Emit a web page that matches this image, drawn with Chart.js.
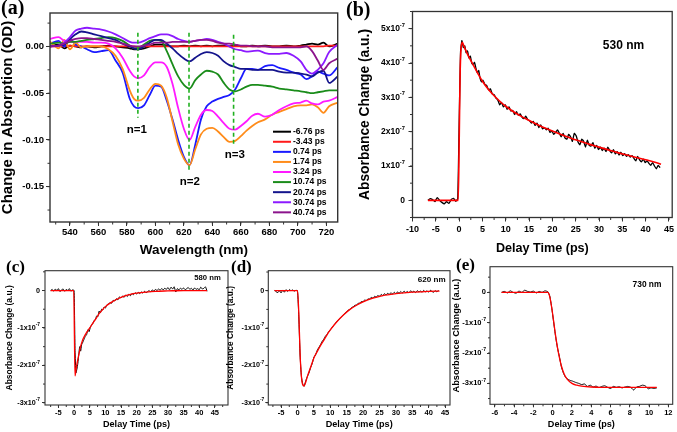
<!DOCTYPE html>
<html><head><meta charset="utf-8">
<script src="https://cdn.jsdelivr.net/npm/chart.js@4.4.1/dist/chart.umd.min.js"></script>
<style>
html,body{margin:0;padding:0;background:#fff;}
#wrap{position:relative;width:677px;height:432px;overflow:hidden;background:#fff;}
#wrap canvas{position:absolute;}
.pl{position:absolute;font-family:"Liberation Serif","Times New Roman",serif;font-weight:bold;line-height:1;color:#000;white-space:nowrap;}
.ann{position:absolute;font-family:"Liberation Sans",Arial,sans-serif;font-weight:bold;line-height:1;color:#000;transform:translate(-50%,-50%);white-space:nowrap;}
</style></head><body>
<div id="wrap">
<canvas id="ca" width="345" height="262" style="left:0;top:0"></canvas>
<canvas id="cb" width="332" height="262" style="left:345px;top:0"></canvas>
<canvas id="cc" width="232" height="177" style="left:0;top:255px"></canvas>
<canvas id="cd" width="228" height="177" style="left:225px;top:255px"></canvas>
<canvas id="ce" width="229" height="177" style="left:448px;top:255px"></canvas>
<div class="pl" style="left:1px;top:-3px;font-size:20px">(a)</div>
<div class="pl" style="left:346px;top:-1px;font-size:20px">(b)</div>
<div class="pl" style="left:6px;top:257.5px;font-size:17px">(c)</div>
<div class="pl" style="left:231px;top:257.5px;font-size:17px">(d)</div>
<div class="pl" style="left:456px;top:255.5px;font-size:17px">(e)</div>
<div class="ann" style="left:623.5px;top:44.5px;font-size:12px">530 nm</div>
<div class="ann" style="left:207.5px;top:277.5px;font-size:7.7px">580 nm</div>
<div class="ann" style="left:431.7px;top:279.5px;font-size:8.1px">620 nm</div>
<div class="ann" style="left:647px;top:284px;font-size:8.4px">730 nm</div>
</div>
<script>
// ---------- Panel (a): transient absorption spectra ----------
const aWavelength = [526,532,536,540,544,548,552,557,562,567,572,577,582,585,588,592,596,600,604,608,612,616,620,624,628,632,636,640,644,648,652,656,660,664,668,672,677,682,687,692,697,702,706,710,714,718,722,728];
const aDelayLabels = ['-6.76 ps','-3.43 ps','0.74 ps','1.74 ps','3.24 ps','10.74 ps','20.74 ps','30.74 ps','40.74 ps'];
const aM676 = [0.000,0.002,-0.002,0.001,0.000,-0.001,0.000,-0.001,0.000,0.001, 0.000,-0.001,-0.002,-0.003,-0.003,-0.002,0.000,0.002,0.002,0.001, 0.000,0.000,0.001,0.000,0.001,0.000,0.001,0.000,0.001,0.001, 0.000,0.001,0.000,0.000,0.001,0.000,0.001,0.000,0.000,0.001, 0.000,0.001,0.002,0.003,0.002,0.004,0.000,0.003];
const aM343 = [0.000,0.000,0.000,0.001,0.000,0.000,0.000,0.000,0.000,0.000, 0.000,0.000,0.000,0.000,-0.001,0.000,0.000,0.000,0.000,0.000, 0.000,0.000,0.000,0.000,0.000,0.000,0.000,0.000,0.000,0.000, 0.000,0.000,0.000,0.000,0.000,0.000,0.000,0.000,0.000,0.000, 0.000,0.000,0.000,0.000,0.000,0.000,0.001,0.001];
const aP074 = [0.003,0.006,0.000,0.008,0.002,0.000,-0.003,-0.006,-0.005,-0.004, -0.015,-0.028,-0.056,-0.064,-0.066,-0.063,-0.052,-0.042,-0.043,-0.058, -0.078,-0.100,-0.118,-0.127,-0.105,-0.078,-0.064,-0.059,-0.056,-0.054, -0.052,-0.046,-0.034,-0.024,-0.024,-0.025,-0.021,-0.020,-0.023,-0.025, -0.028,-0.030,-0.035,-0.032,-0.027,-0.029,-0.031,-0.022];
const aP174 = [0.005,-0.002,0.007,-0.003,0.004,-0.001,0.000,0.000,0.000,-0.003, -0.010,-0.024,-0.047,-0.056,-0.058,-0.055,-0.046,-0.040,-0.042,-0.055, -0.080,-0.105,-0.120,-0.127,-0.110,-0.094,-0.088,-0.087,-0.091,-0.097, -0.102,-0.101,-0.096,-0.090,-0.085,-0.081,-0.078,-0.073,-0.070,-0.067, -0.064,-0.063,-0.063,-0.062,-0.065,-0.071,-0.064,-0.060];
const aP324 = [0.008,0.010,0.006,0.005,0.005,0.005,0.005,0.004,0.004,0.003, -0.002,-0.012,-0.026,-0.032,-0.034,-0.031,-0.022,-0.017,-0.017,-0.022, -0.040,-0.066,-0.088,-0.100,-0.086,-0.073,-0.068,-0.069,-0.075,-0.082, -0.088,-0.089,-0.085,-0.080,-0.074,-0.072,-0.075,-0.073,-0.068,-0.064, -0.061,-0.060,-0.058,-0.061,-0.062,-0.059,-0.058,-0.054];
const aP1074 = [0.003,0.004,0.003,0.005,0.005,0.006,0.007,0.008,0.009,0.010, 0.009,0.006,0.001,-0.002,-0.002,0.002,0.006,0.007,0.006,-0.005, -0.019,-0.032,-0.041,-0.045,-0.036,-0.030,-0.026,-0.027,-0.030,-0.039, -0.046,-0.048,-0.046,-0.043,-0.041,-0.041,-0.042,-0.043,-0.045,-0.046, -0.047,-0.048,-0.049,-0.050,-0.049,-0.048,-0.047,-0.047];
const aP2074 = [0.000,0.001,0.002,0.008,0.013,0.016,0.015,0.013,0.011,0.009, 0.007,0.003,0.000,-0.002,-0.003,0.000,0.004,0.007,0.007,0.003, -0.002,-0.008,-0.013,-0.016,-0.012,-0.008,-0.006,-0.007,-0.010,-0.016, -0.020,-0.022,-0.024,-0.024,-0.025,-0.025,-0.025,-0.025,-0.027,-0.028, -0.028,-0.029,-0.030,-0.032,-0.028,-0.026,-0.039,-0.032];
const aP3074 = [0.000,0.001,0.004,0.010,0.017,0.019,0.020,0.019,0.018,0.016, 0.013,0.009,0.005,0.004,0.004,0.006,0.009,0.011,0.013,0.013, 0.011,0.008,0.006,0.005,0.006,0.007,0.008,0.007,0.005,0.003, 0.000,-0.003,-0.004,-0.0055,-0.005,-0.0045,-0.007,-0.008,-0.008,-0.007, -0.010,-0.016,-0.025,-0.029,-0.025,-0.018,-0.006,0.002];
const aP4074 = [0.000,0.001,0.003,0.006,0.008,0.009,0.009,0.008,0.007,0.006, 0.005,0.003,0.001,0.000,0.000,0.001,0.002,0.004,0.004,0.004, 0.005,0.005,0.005,0.005,0.006,0.007,0.007,0.006,0.004,0.003, 0.003,0.002,0.001,0.001,0.000,0.000,0.000,-0.001,-0.001,-0.001, -0.001,-0.001,0.000,-0.005,-0.015,-0.025,-0.018,-0.013];
const aSeries = [aM676,aM343,aP074,aP174,aP324,aP1074,aP2074,aP3074,aP4074];
const aColors = ['#000000','#ff1a1a','#1a1aff','#ff8c1a','#ff1aff','#1a8c1a','#14148c','#8c1aff','#8c148c'];
const aDashX = [587.7, 623.6, 654.9];
const aDashTop = [0.0147, 0.0147, 0.0125];
const aDashBottom = [-0.0763, -0.132, -0.105];
const aPeakLabels = ['n=1','n=2','n=3'];
const aPeakX = [587, 624.2, 655.8];
const aPeakY = [-0.089, -0.145, -0.116];
const aXTicks = [540,560,580,600,620,640,660,680,700,720];
const aXTickLabels = ['540','560','580','600','620','640','660','680','700','720'];
const aYTicks = [0,-0.05,-0.10,-0.15];
const aYTickLabels = ['0.00','-0.05','-0.10','-0.15'];

// ---------- Panel (b): 530 nm kinetics ----------
const bTime = [-6.7,-6.2,-5.7,-5.2,-4.7,-4.2,-3.7,-3.2,-2.7,-2.2, -1.7,-1.2,-0.7,-0.3,0.0,0.3,0.6,0.9,1.2,1.5, 1.8,2.1,2.4,2.7,3.0,3.3,3.6,3.9,4.2,4.5, 4.8,5.1,5.5,5.9,6.3,6.7,7.1,7.5,7.9,8.3, 8.7,9.1,9.5,9.9,10.3,10.7,11.1,11.5,11.9,12.3, 12.7,13.1,13.5,13.9,14.3,14.7,15.1,15.5,15.9,16.3, 16.7,17.1,17.5,17.9,18.3,18.7,19.1,19.5,19.9,20.3, 20.7,21.1,21.5,21.9,22.3,22.7,23.1,23.5,23.9,24.3, 24.7,25.1,25.5,25.9,26.3,26.7,27.1,27.5,27.9,28.3, 28.7,29.1,29.5,29.9,30.3,30.7,31.1,31.5,31.9,32.3, 32.7,33.1,33.5,33.9,34.3,34.7,35.1,35.5,35.9,36.3, 36.7,37.1,37.5,37.9,38.3,38.7,39.1,39.5,39.9,40.3, 40.7,41.1,41.5,41.9,42.3,42.7,43.1];
const bSignal = [0.00,0.05,0.02,-0.04,0.08,0.00,-0.06,-0.10,-0.04,-0.09, 0.02,0.06,-0.03,0.05,2.2,4.3,4.65,4.45,4.5,4.3, 4.35,4.15,4.2,4.0,3.95,4.02,3.85,3.72,3.78,3.55, 3.45,3.5,3.38,3.35,3.22,3.25,3.1,3.08,2.98,2.92, 2.78,2.85,2.72,2.78,2.65,2.72,2.6,2.62,2.5,2.58, 2.48,2.52,2.42,2.38,2.45,2.35,2.32,2.25,2.3,2.18, 2.25,2.12,2.2,2.08,2.12,2.05,2.1,1.98,2.02,1.92, 1.98,2.05,1.95,1.85,1.95,1.82,1.78,1.92,1.85,1.72, 1.95,1.88,1.7,1.62,1.78,1.72,1.55,1.75,1.6,1.58, 1.68,1.52,1.6,1.48,1.55,1.45,1.52,1.42,1.55,1.45, 1.38,1.48,1.35,1.42,1.32,1.4,1.3,1.36,1.28,1.33, 1.26,1.3,1.22,1.15,1.28,1.18,1.12,1.2,1.1,1.15, 1.08,1.02,1.1,1.0,0.92,1.02,0.95];
const bFitTime = [-6.7,-0.2,0.0,0.2,0.4,0.7,1.0,2,3,4,5,6,7,8,9,10,12,14,16,18,20,22,24,26,28,30,32,34,36,38,40,42,43.3];
const bFit = [0,0,1.6,3.6,4.4,4.6,4.5,4.2,3.95,3.7,3.47,3.28,3.12,2.98,2.85,2.74,2.55,2.4,2.26,2.13,2.02,1.91,1.81,1.72,1.63,1.55,1.47,1.39,1.32,1.25,1.18,1.11,1.05];
const bXTicks = [-10,-5,0,5,10,15,20,25,30,35,40,45];
const bXTickLabels = ['-10','-5','0','5','10','15','20','25','30','35','40','45'];
const bYTicks = [0,1,2,3,4,5];
const bYTickLabels = ['0','1x10^-7','2x10^-7','3x10^-7','4x10^-7','5x10^-7'];

// ---------- Panel (c): 580 nm kinetics ----------
const cTime = [-7.5,-7.0,-6.5,-6.0,-5.5,-5.0,-4.5,-4.0,-3.5,-3.0,-2.5,-2.0,-1.5,-1.0,-0.5,0.0, 0.3,0.6,0.9,1.2,1.5,1.8,2.1,2.4, 2.8,3.2,3.6,4.0,4.4,4.8,5.2,5.6,6.0,6.4,6.8,7.2,7.6,8.0,8.4,8.8,9.2,9.6,10.0, 10.5,11.0,11.5,12.0,12.5,13.0,13.5,14.0,14.5,15.0, 15.5,16.0,16.5,17.0,17.5,18.0,18.5,19.0,19.5,20.0, 20.5,21.0,21.5,22.0,22.5,23.0,23.5,24.0,24.5,25.0, 25.5,26.0,26.5,27.0,27.5,28.0,28.5,29.0,29.5,30.0, 30.5,31.0,31.5,32.0,32.5,33.0,33.5,34.0,34.5,35.0, 35.5,36.0,36.5,37.0,37.5,38.0,38.5,39.0,39.5,40.0, 40.5,41.0,41.5,42.0,42.5];
const cSignal = [0.00,0.03,-0.02,0.04,0.0,0.05,-0.03,0.02,0.04,-0.02,0.03,0.0,0.05,-0.02,0.02,0.0, -1.6,-2.2,-2.1,-1.95,-1.7,-1.5,-1.62,-1.45, -1.38,-1.3,-1.22,-1.18,-1.05,-1.1,-0.98,-0.92,-0.88,-0.8,-0.78,-0.68,-0.7,-0.55,-0.6,-0.5,-0.52,-0.44,-0.47, -0.38,-0.36,-0.32,-0.34,-0.26,-0.28,-0.22,-0.25,-0.17,-0.2, -0.15,-0.18,-0.12,-0.16,-0.1,-0.14,-0.08,-0.11,-0.06,-0.09, -0.05,-0.08,-0.04,-0.07,-0.02,-0.06,-0.03,0.0,-0.04,0.02, -0.02,0.03,0.0,0.04,0.01,0.05,0.02,0.06,0.03,0.08, 0.02,0.09,0.04,0.1,-0.04,0.05,0.02,0.06,0.03,0.07, 0.02,0.05,0.08,0.03,0.06,0.01,0.07,0.03,0.05,0.02, 0.09,0.04,0.06,0.1,-0.02];
const cFitTime = [-7.5,-0.1,0.1,0.3,0.6,1.0,1.5,2.0,2.5,3.0,4.0,5.0,6.0,7.0,8.0,9.0,10,12,14,16,18,20,23,26,30,35,42.5];
const cFit = [0,0,-1.2,-2.28,-2.12,-1.92,-1.72,-1.52,-1.38,-1.27,-1.12,-1.0,-0.87,-0.75,-0.62,-0.52,-0.43,-0.31,-0.22,-0.15,-0.1,-0.07,-0.04,-0.02,-0.01,0.0,0.0];
const cXTicks = [-5,0,5,10,15,20,25,30,35,40,45];
const cXTickLabels = ['-5','0','5','10','15','20','25','30','35','40','45'];
const cYTicks = [0,-1,-2,-3];
const cYTickLabels = ['0','-1x10^-7','-2x10^-7','-3x10^-7'];

// ---------- Panel (d): 620 nm kinetics ----------
const dTime = [-7.0,-6.5,-6.0,-5.5,-5.0,-4.5,-4.0,-3.5,-3.0,-2.5,-2.0,-1.5,-1.0,-0.5,0.0, 0.4,0.8,1.2,1.6, 2.0,2.5,3.0,3.5,4.0,4.5,5.0,5.5,6.0,6.5, 7.0,7.5,8.0,8.5,9.0,9.5,10.0,10.5,11.0,11.5, 12.0,12.5,13.0,13.5,14.0,14.5,15.0,15.5,16.0,16.5, 17.0,17.5,18.0,18.5,19.0,19.5,20.0,20.5,21.0,21.5, 22.0,22.5,23.0,23.5,24.0,24.5,25.0,25.5,26.0,26.5, 27.0,27.5,28.0,28.5,29.0,29.5,30.0,30.5,31.0,31.5, 32.0,32.5,33.0,33.5,34.0,34.5,35.0,35.5,36.0,36.5, 37.0,37.5,38.0,38.5,39.0,39.5,40.0,40.5,41.0,41.5, 42.0,42.5,43.0];
const dSignal = [0.02,-0.03,-0.05,0.0,-0.06,0.02,-0.04,0.03,-0.02,0.03,0.0,0.02,-0.01,0.01,0.0, -0.7,-1.75,-2.3,-2.5, -2.56,-2.42,-2.3,-2.2,-2.06,-1.95,-1.78,-1.72,-1.6,-1.52, -1.45,-1.36,-1.3,-1.22,-1.17,-1.1,-1.05,-0.99,-0.93,-0.88, -0.82,-0.78,-0.73,-0.69,-0.64,-0.6,-0.56,-0.52,-0.5,-0.45, -0.43,-0.39,-0.38,-0.34,-0.33,-0.29,-0.29,-0.25,-0.26,-0.22, -0.22,-0.18,-0.2,-0.15,-0.17,-0.13,-0.15,-0.1,-0.13,-0.08, -0.11,-0.07,-0.1,-0.05,-0.09,-0.04,-0.08,-0.03,-0.07,-0.02, -0.06,-0.01,-0.05,-0.02,-0.06,0.0,-0.04,-0.01,-0.05,0.0, -0.03,-0.01,-0.04,0.01,-0.03,0.0,-0.04,0.01,-0.02,-0.04, 0.0,-0.03,0.01];
const dFitTime = [-7.0,0.0,0.4,0.8,1.2,1.6,2.0,2.5,3.0,4,5,6,7,8,9,10,12,14,16,18,20,23,26,30,35,40,43.3];
const dFit = [0,0,-0.6,-1.7,-2.3,-2.52,-2.55,-2.45,-2.3,-2.05,-1.8,-1.63,-1.47,-1.33,-1.18,-1.05,-0.83,-0.65,-0.5,-0.39,-0.3,-0.2,-0.13,-0.08,-0.04,-0.02,-0.01];
const dXTicks = [-5,0,5,10,15,20,25,30,35,40,45];
const dXTickLabels = ['-5','0','5','10','15','20','25','30','35','40','45'];
const dYTicks = [0,-1,-2,-3];
const dYTickLabels = ['0','-1x10^-7','-2x10^-7','-3x10^-7'];

// ---------- Panel (e): 730 nm kinetics ----------
const eTime = [-5.3,-5.0,-4.7,-4.4,-4.1,-3.8,-3.5,-3.2,-2.9,-2.6, -2.3,-2.0,-1.7,-1.4,-1.1,-0.8,-0.5,-0.3,-0.1,0.1, 0.3,0.5,0.7,0.9,1.1,1.3,1.5,1.8,2.1,2.4, 2.7,3.0,3.3,3.6,3.9,4.2,4.5,4.8,5.1,5.4, 5.7,6.0,6.3,6.6,6.9,7.2,7.5,7.8,8.1,8.4, 8.7,9.0,9.3,9.6,9.9,10.2,10.5,10.8];
const eSignal = [0.0,0.03,-0.02,0.05,0.0,-0.03,0.04,0.0,0.07,0.03, 0.01,0.04,-0.02,0.03,0.0,0.05,0.02,-0.12,-0.5,-0.98, -1.45,-1.83,-2.12,-2.45,-2.65,-2.78,-2.85,-2.9,-2.93,-2.97, -3.0,-3.04,-3.02,-3.1,-3.06,-3.12,-3.09,-3.14,-3.1,-3.08, -3.13,-3.17,-3.1,-3.13,-3.11,-3.15,-3.12,-3.1,-3.13,-3.22, -3.12,-3.1,-3.06,-3.08,-3.18,-3.15,-3.17,-3.15];
const eFitTime = [-5.3,-0.5,-0.3,-0.1,0.1,0.3,0.5,0.7,0.9,1.2,1.5,2.0,2.5,3.0,4.0,5.0,7.0,10.8];
const eFit = [0,0,-0.15,-0.5,-0.95,-1.42,-1.82,-2.15,-2.42,-2.7,-2.86,-3.0,-3.06,-3.09,-3.12,-3.13,-3.13,-3.13];
const eXTicks = [-6,-4,-2,0,2,4,6,8,10,12];
const eXTickLabels = ['-6','-4','-2','0','2','4','6','8','10','12'];
const eYTicks = [0,-1,-2,-3];
const eYTickLabels = ['0','-1x10^-7','-2x10^-7','-3x10^-7'];

// ---------- rendering ----------
const FAMILY = "'Liberation Sans', Arial, Helvetica, sans-serif";
const AXIS = '#333333';
const pts = (xs, ys) => xs.map((x, i) => ({x: x, y: ys[i]}));

function originPlugin(o) {
  return {
    id: 'origin',
    afterDatasetsDraw(chart) {
      const ctx = chart.ctx, ca = chart.chartArea, xs = chart.scales.x, ys = chart.scales.y;
      ctx.save();
      // data-anchored text
      (o.texts || []).forEach(t => {
        ctx.font = t.font; ctx.fillStyle = '#000'; ctx.textAlign = 'center'; ctx.textBaseline = 'middle';
        ctx.fillText(t.text, xs.getPixelForValue(t.x), ys.getPixelForValue(t.y));
      });
      // frame
      ctx.setLineDash([]);
      ctx.strokeStyle = AXIS; ctx.lineWidth = o.frameWidth;
      ctx.strokeRect(ca.left, ca.top, ca.right - ca.left, ca.bottom - ca.top);
      // minor ticks
      ctx.lineWidth = 1;
      ctx.beginPath();
      let k0 = Math.ceil(xs.min / o.minorX - 1e-6), k1 = Math.floor(xs.max / o.minorX + 1e-6);
      for (let k = k0; k <= k1; k++) {
        const p = xs.getPixelForValue(k * o.minorX);
        ctx.moveTo(p, ca.bottom); ctx.lineTo(p, ca.bottom + o.minorLen);
      }
      k0 = Math.ceil(ys.min / o.minorY - 1e-6); k1 = Math.floor(ys.max / o.minorY + 1e-6);
      for (let k = k0; k <= k1; k++) {
        const p = ys.getPixelForValue(k * o.minorY);
        ctx.moveTo(ca.left, p); ctx.lineTo(ca.left - o.minorLen, p);
      }
      ctx.stroke();
      // y labels with superscript exponent
      if (o.sup) {
        const S = o.sup, right = ca.left - S.gap, ss = S.size * 0.68;
        ctx.fillStyle = '#000'; ctx.textBaseline = 'middle'; ctx.textAlign = 'left';
        S.values.forEach((v, i) => {
          const y = ys.getPixelForValue(v);
          const parts = S.labels[i].split('^');
          ctx.font = 'bold ' + S.size + 'px ' + FAMILY;
          const bw = ctx.measureText(parts[0]).width;
          let sw = 0;
          if (parts[1]) { ctx.font = 'bold ' + ss + 'px ' + FAMILY; sw = ctx.measureText(parts[1]).width; }
          ctx.font = 'bold ' + S.size + 'px ' + FAMILY;
          ctx.fillText(parts[0], right - bw - sw, y);
          if (parts[1]) { ctx.font = 'bold ' + ss + 'px ' + FAMILY; ctx.fillText(parts[1], right - sw, y - S.size * 0.42); }
        });
      }
      // legend
      if (o.legend) {
        const L = o.legend;
        ctx.font = 'bold ' + L.size + 'px ' + FAMILY; ctx.textAlign = 'left'; ctx.textBaseline = 'middle';
        let row = 0;
        chart.data.datasets.forEach(ds => {
          if (!ds.inLegend) return;
          const y = L.top + row * L.dy;
          ctx.strokeStyle = ds.borderColor; ctx.lineWidth = L.lineWidth;
          ctx.beginPath(); ctx.moveTo(L.x1, y); ctx.lineTo(L.x2, y); ctx.stroke();
          ctx.fillStyle = '#000'; ctx.fillText(ds.label, L.textX, y);
          row++;
        });
      }
      ctx.restore();
    }
  };
}

function makeChart(id, c) {
  return new Chart(document.getElementById(id), {
    type: 'scatter',
    data: {datasets: c.datasets},
    options: {
      responsive: false, animation: false, events: [],
      layout: {padding: c.padding},
      plugins: {legend: {display: false}, tooltip: {enabled: false}},
      scales: {
        x: {
          type: 'linear', min: c.xMin, max: c.xMax,
          afterFit: s => { s.height = c.xAxisH; },
          afterBuildTicks: s => { s.ticks = c.xTicks.map(v => ({value: v})); },
          ticks: {callback: (v, i) => c.xLabels[i], autoSkip: false, maxRotation: 0, color: '#000', padding: c.xPad,
                  font: {family: FAMILY, size: c.xTickSize, weight: 'bold'}},
          grid: {display: true, drawOnChartArea: false, drawTicks: true, tickLength: c.tickLen, color: AXIS, lineWidth: 1},
          border: {display: false},
          title: {display: true, text: c.xTitle, color: '#000', padding: {top: 0, bottom: c.xTitlePad},
                  font: {family: FAMILY, size: c.xTitleSize, weight: 'bold', lineHeight: 1}}
        },
        y: {
          type: 'linear', min: c.yMin, max: c.yMax,
          afterFit: s => { s.width = c.yAxisW; },
          afterBuildTicks: s => { s.ticks = c.yTicks.map(v => ({value: v})); },
          ticks: {display: !c.sup, callback: (v, i) => c.yLabels[i], autoSkip: false, color: '#000', padding: c.yPad,
                  font: {family: FAMILY, size: c.yTickSize, weight: 'bold'}},
          grid: {display: true, drawOnChartArea: false, drawTicks: true, tickLength: c.tickLen, color: AXIS, lineWidth: 1},
          border: {display: false},
          title: {display: true, text: c.yTitle, color: '#000', padding: {top: c.yTitlePad, bottom: 0},
                  font: {family: FAMILY, size: c.yTitleSize, weight: 'bold', lineHeight: 1}}
        }
      }
    },
    plugins: [originPlugin(c.origin)]
  });
}

// panel (a)
const aDatasets = aSeries.map((vals, i) => ({
  label: aDelayLabels[i], data: pts(aWavelength, vals), showLine: true, pointRadius: 0,
  borderColor: aColors[i], borderWidth: 1.8, cubicInterpolationMode: 'monotone', order: 20 - i, inLegend: true
}));
aDashX.forEach((x, i) => aDatasets.push({
  label: 'dash' + i, data: [{x: x, y: aDashTop[i]}, {x: x, y: aDashBottom[i]}], showLine: true, pointRadius: 0,
  borderColor: '#1fb01f', borderWidth: 1.6, borderDash: [4, 3], order: 0
}));
makeChart('ca', {
  datasets: aDatasets, padding: {left: 0, top: 13, right: 7.3, bottom: 0}, yAxisW: 50, xAxisH: 40,
  xMin: 526, xMax: 728, yMin: -0.1878, yMax: 0.0358,
  xTicks: aXTicks, xLabels: aXTickLabels, yTicks: aYTicks, yLabels: aYTickLabels,
  xTickSize: 9.5, yTickSize: 9.5, xPad: 1, yPad: 2, tickLen: 4,
  xTitle: 'Wavelength (nm)', xTitleSize: 13.5, xTitlePad: 5.2,
  yTitle: 'Change in Absorption (OD)', yTitleSize: 15, yTitlePad: 0,
  origin: {frameWidth: 1.4, minorX: 10, minorY: 0.025, minorLen: 2.5,
    texts: aPeakLabels.map((t, i) => ({text: t, x: aPeakX[i], y: aPeakY[i], font: 'bold 11.5px ' + FAMILY})),
    legend: {x1: 273, x2: 291, textX: 293, top: 131.7, dy: 10.08, size: 8.5, lineWidth: 2}}
});

function kineticSets(t, s, ft, f, bw, rw) {
  return [
    {label: 'fit', data: pts(ft, f), showLine: true, pointRadius: 0, borderColor: '#ff0000', borderWidth: rw, cubicInterpolationMode: 'monotone', order: 0},
    {label: 'data', data: pts(t, s), showLine: true, pointRadius: 0, borderColor: '#000000', borderWidth: bw, tension: 0.15, order: 1}
  ];
}

// panel (b)
makeChart('cb', {
  datasets: kineticSets(bTime, bSignal, bFitTime, bFit, 1.3, 1.6),
  padding: {left: 0, top: 11.5, right: 4.5, bottom: 0}, yAxisW: 67.5, xAxisH: 44.5,
  xMin: -10, xMax: 45.7, yMin: -0.5, yMax: 5.5,
  xTicks: bXTicks, xLabels: bXTickLabels, yTicks: bYTicks, yLabels: bYTickLabels, sup: true,
  xTickSize: 9, yTickSize: 9, xPad: 3, yPad: 3, tickLen: 4,
  xTitle: 'Delay Time (ps)', xTitleSize: 12.6, xTitlePad: 7.4,
  yTitle: 'Absorbance Change (a.u.)', yTitleSize: 13.8, yTitlePad: 13.1,
  origin: {frameWidth: 1.3, minorX: 2.5, minorY: 0.5, minorLen: 2.5,
    sup: {values: bYTicks, labels: bYTickLabels, size: 8.5, gap: 7.5}}
});

// panel (c)
makeChart('cc', {
  datasets: kineticSets(cTime, cSignal, cFitTime, cFit, 1, 1.3),
  padding: {left: 0, top: 15.7, right: 4, bottom: 0}, yAxisW: 45, xAxisH: 27,
  xMin: -9.3, xMax: 49.2, yMin: -3.06, yMax: 0.53,
  xTicks: cXTicks, xLabels: cXTickLabels, yTicks: cYTicks, yLabels: cYTickLabels, sup: true,
  xTickSize: 7.5, yTickSize: 7.5, xPad: 0.5, yPad: 2, tickLen: 3,
  xTitle: 'Delay Time (ps)', xTitleSize: 9.1, xTitlePad: 2.5,
  yTitle: 'Absorbance Change (a.u.)', yTitleSize: 8.5, yTitlePad: 5,
  origin: {frameWidth: 1.1, minorX: 2.5, minorY: 0.5, minorLen: 2,
    sup: {values: cYTicks, labels: cYTickLabels, size: 7.2, gap: 5}}
});

// panel (d)
makeChart('cd', {
  datasets: kineticSets(dTime, dSignal, dFitTime, dFit, 1, 1.3),
  padding: {left: 0, top: 15.7, right: 3, bottom: 0}, yAxisW: 43.3, xAxisH: 27,
  xMin: -8.9, xMax: 46.5, yMin: -3.06, yMax: 0.536,
  xTicks: dXTicks, xLabels: dXTickLabels, yTicks: dYTicks, yLabels: dYTickLabels, sup: true,
  xTickSize: 7.5, yTickSize: 7.5, xPad: 0.5, yPad: 2, tickLen: 3,
  xTitle: 'Delay Time (ps)', xTitleSize: 9.1, xTitlePad: 2.5,
  yTitle: 'Absorbance Change (a.u.)', yTitleSize: 8.4, yTitlePad: 1.8,
  origin: {frameWidth: 1.1, minorX: 2.5, minorY: 0.5, minorLen: 2,
    sup: {values: dYTicks, labels: dYTickLabels, size: 7.2, gap: 4}}
});

// panel (e)
makeChart('ce', {
  datasets: kineticSets(eTime, eSignal, eFitTime, eFit, 1, 1.3),
  padding: {left: 0, top: 11.7, right: 4.3, bottom: 0}, yAxisW: 42, xAxisH: 27.7,
  xMin: -6.5, xMax: 12.45, yMin: -3.69, yMax: 0.845,
  xTicks: eXTicks, xLabels: eXTickLabels, yTicks: eYTicks, yLabels: eYTickLabels, sup: true,
  xTickSize: 7.5, yTickSize: 7.5, xPad: 1, yPad: 2, tickLen: 3,
  xTitle: 'Delay Time (ps)', xTitleSize: 9.1, xTitlePad: 2.5,
  yTitle: 'Absorbance Change (a.u.)', yTitleSize: 9.2, yTitlePad: 3.4,
  origin: {frameWidth: 1.1, minorX: 1, minorY: 0.5, minorLen: 2,
    sup: {values: eYTicks, labels: eYTickLabels, size: 7.5, gap: 4}}
});
</script>
</body></html>
